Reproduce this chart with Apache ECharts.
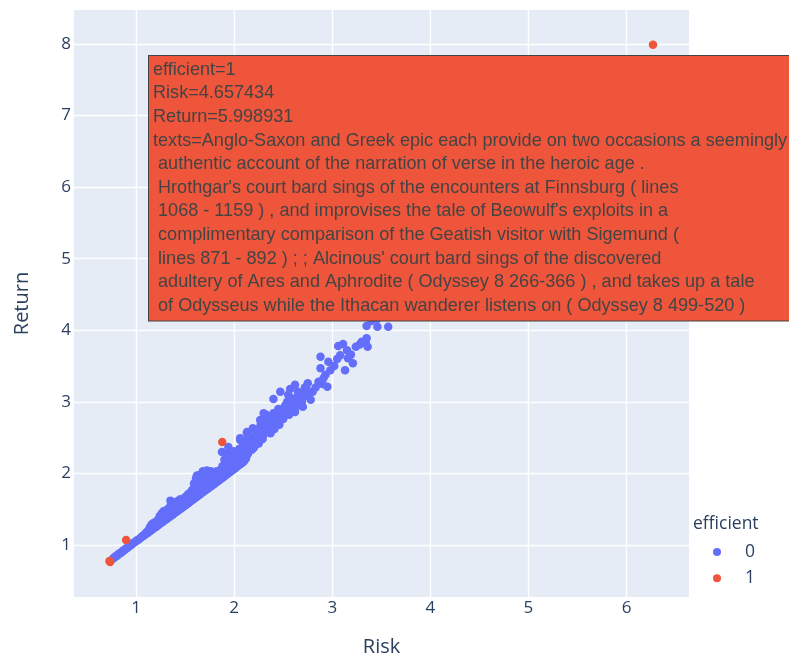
<!DOCTYPE html>
<html>
<head>
<meta charset="utf-8">
<script src="https://cdn.jsdelivr.net/npm/echarts@6/dist/echarts.min.js"></script>
<style>
html,body{margin:0;padding:0;overflow:hidden;background:#fff;}
#chart{width:789px;height:657px;}
</style>
</head>
<body>
<div id="chart"></div>
<script>
// ---- data ----
const seriesNames = ['0', '1'];
const xTicks = [1, 2, 3, 4, 5, 6];
const yTicks = [1, 2, 3, 4, 5, 6, 7, 8];
const xTitle = 'Risk';
const yTitle = 'Return';
const legendTitle = 'efficient';

// efficient = 0  [Risk, Return]
const efficient0 = [
  [0.765,0.812],[0.778,0.826],[0.791,0.843],[0.806,0.851],[0.818,0.869],[0.833,0.884],[0.847,0.893],[0.861,0.912],
  [0.874,0.925],[0.889,0.941],[0.902,0.953],[0.918,0.968],[0.931,0.987],[0.946,0.998],[0.960,1.013],[0.973,1.030],
  [0.989,1.041],[1.003,1.058],[1.017,1.071],[1.032,1.083],[1.048,1.102],[1.061,1.118],[1.077,1.129],[1.092,1.147],
  [1.106,1.162],[1.121,1.171],[1.137,1.192],[1.150,1.203],[1.166,1.219],[1.181,1.236],[1.195,1.248],[1.211,1.263],
  [1.226,1.281],[1.240,1.293],[1.256,1.310],[1.271,1.322],[1.286,1.341],[1.301,1.354],[1.317,1.369],[1.332,1.387],
  [1.346,1.398],[1.362,1.417],[1.378,1.430],[1.392,1.446],[1.408,1.462],[1.423,1.475],[1.439,1.493],[1.453,1.507],
  [1.469,1.521],[1.485,1.540],[1.499,1.552],[1.515,1.569],[1.531,1.583],[1.546,1.601],[1.560,1.614],[1.576,1.632],
  [1.592,1.645],[1.607,1.663],[1.621,1.677],[1.637,1.694],[1.653,1.708],[1.668,1.725],[1.683,1.739],[1.699,1.757],
  [1.714,1.772],[1.730,1.787],[1.745,1.803],[1.761,1.818],[1.776,1.835],[1.792,1.849],[1.807,1.867],[1.823,1.881],
  [1.838,1.898],[1.854,1.913],[1.869,1.930],[1.885,1.944],[1.900,1.962],[1.916,1.977],[1.931,1.993],[1.947,2.009],
  [1.962,2.026],[1.978,2.041],[1.993,2.058],[2.009,2.074],[2.024,2.091],[2.040,2.107],[2.056,2.125],[2.071,2.140],
  [2.087,2.158],[2.102,2.174],
  [1.07,1.13],[1.10,1.17],[1.12,1.20],[1.14,1.25],[1.16,1.29],[1.18,1.31],[1.20,1.30],[1.22,1.35],[1.24,1.40],
  [1.26,1.44],[1.28,1.47],[1.30,1.44],[1.32,1.50],[1.35,1.55],[1.35,1.62],[1.38,1.53],[1.40,1.58],[1.42,1.61],
  [1.45,1.64],[1.47,1.60],[1.50,1.67],[1.53,1.71],[1.55,1.73],[1.57,1.77],[1.59,1.86],[1.61,1.93],[1.62,1.97],
  [1.60,1.80],[1.64,1.89],[1.66,1.99],[1.68,2.03],[1.70,1.94],[1.72,2.04],[1.74,1.97],[1.76,2.03],[1.78,1.95],
  [1.80,2.01],[1.82,2.03],[1.84,1.96],[1.86,2.05],[1.88,2.10],[1.90,2.19],[1.875,2.30],[1.93,2.28],[1.94,2.37],
  [1.95,2.21],[1.97,2.27],[1.99,2.31],[2.01,2.24],[2.03,2.30],[2.05,2.34],[2.07,2.27],[2.09,2.39],[2.11,2.33],
  [1.25,1.36],[1.29,1.40],[1.33,1.44],[1.37,1.48],[1.41,1.52],[1.44,1.56],[1.48,1.59],[1.52,1.63],[1.56,1.68],
  [1.59,1.72],[1.62,1.76],[1.64,1.80],[1.63,1.87],[1.66,1.82],[1.68,1.91],[1.70,1.85],[1.72,1.95],[1.74,1.88],
  [1.76,1.94],[1.78,1.90],[1.80,1.95],[1.83,1.97],[1.86,1.99],[1.89,2.03],[1.91,2.10],[1.92,2.04],[1.95,2.08],
  [1.96,2.15],[1.98,2.11],[2.00,2.18],[2.02,2.14],[2.04,2.21],[2.06,2.19],[2.08,2.23],[2.10,2.25],[2.12,2.21],
  [2.15,2.31],[2.17,2.37],[2.20,2.36],[2.23,2.45],[2.25,2.42],[2.27,2.51],[2.29,2.48],[2.32,2.58],[2.35,2.65],
  [2.37,2.56],[2.38,2.68],[2.41,2.62],[2.43,2.76],[2.46,2.68],[2.48,2.82],[2.50,2.76],[2.53,2.85],[2.56,2.82],
  [2.60,2.90],[2.62,2.86],[2.66,2.95],[2.69,3.00],[2.75,3.09],[2.80,3.14],[2.83,3.20],[2.90,3.25],[2.93,3.38],
  [3.02,3.50],[3.05,3.60],[3.19,3.66],[3.28,3.80],
  [2.14,2.27],[2.18,2.33],[2.22,2.40],[2.26,2.47],[2.30,2.54],[2.35,2.60],[2.40,2.66],[2.45,2.74],
  [2.061,2.466],[2.13,2.56],[2.214,2.606],[2.265,2.746],[2.33,2.816],[2.398,2.634],[2.296,2.652],
  [2.03,2.28],[2.09,2.40],[2.06,2.49],[2.18,2.51],[2.13,2.58],[2.19,2.63],[2.34,2.61],[2.27,2.68],[2.42,2.72],
  [2.30,2.84],[2.34,2.79],[2.40,2.84],[2.52,2.82],[2.47,2.89],[2.70,2.93],[2.59,2.93],[2.54,3.00],[2.78,3.03],
  [2.64,3.07],[2.40,3.04],[2.47,3.14],[2.57,3.18],[2.62,3.24],[2.74,3.17],[2.75,3.26],[2.95,3.21],[2.86,3.28],
  [2.91,3.33],[2.98,3.44],[2.88,3.47],[2.96,3.56],[2.88,3.63],[3.13,3.44],[3.21,3.54],[3.16,3.61],[3.08,3.65],
  [3.15,3.72],[3.24,3.77],[3.06,3.78],[3.11,3.81],[3.36,3.77],[3.34,3.84],[3.35,3.89],[3.35,4.06],[3.46,4.05],
  [3.57,4.05],[3.30,3.84],[3.46,4.16],[3.40,4.13],
  [2.22,2.56],[2.25,2.62],[2.28,2.70],[2.32,2.74],[2.36,2.70],[2.38,2.78],[2.44,2.80],[2.45,2.90],[2.50,2.87],
  [2.52,2.95],[2.56,2.97],[2.58,2.88],[2.60,3.00],[2.63,2.98],[2.66,3.04],[2.68,3.10],[2.72,3.08],[2.65,3.14],
  [2.72,3.20],[2.55,3.10],[2.12,2.46],[2.16,2.50],[2.20,2.45],[2.08,2.31],[2.14,2.39],[2.17,2.43],[2.24,2.52],
  [2.28,2.57],[2.44,2.72],[2.48,2.76],[2.58,3.05],
  [3.62,4.24],[3.70,4.31],[3.78,4.40],[3.85,4.52],[3.95,4.63],[4.05,4.79],[4.15,4.93],[4.30,5.16],[4.45,5.41]
];

// efficient = 1  [Risk, Return]
const efficient1 = [
  [0.735,0.763],[0.728,0.778],[0.898,1.070],[1.878,2.440],[4.657434,5.998931],[6.270,7.990]
];

// hovered point (efficient = 1)
const hoverEfficient = 1;
const hoverRisk = 4.657434;
const hoverReturn = 5.998931;
const hoverTextLines = [
  "Anglo-Saxon and Greek epic each provide on two occasions a seemingly",
  " authentic account of the narration of verse in the heroic age .",
  " Hrothgar's court bard sings of the encounters at Finnsburg ( lines",
  " 1068 - 1159 ) , and improvises the tale of Beowulf's exploits in a",
  " complimentary comparison of the Geatish visitor with Sigemund (",
  " lines 871 - 892 ) ; ; Alcinous' court bard sings of the discovered",
  " adultery of Ares and Aphrodite ( Odyssey 8 266-366 ) , and takes up a tale",
  " of Odysseus while the Ithacan wanderer listens on ( Odyssey 8 499-520 )"
];

// ---- chart ----
const TEXT = '#2a3f5f';
const FONT = '"Open Sans", verdana, arial, sans-serif';
const chart = echarts.init(document.getElementById('chart'), null, {renderer: 'canvas'});

const tipText = [
  'efficient=' + hoverEfficient,
  'Risk=' + hoverRisk,
  'Return=' + hoverReturn,
  'texts=' + hoverTextLines.join('\n')
].join('\n');

const axisCommon = {
  type: 'value',
  nameLocation: 'middle',
  nameTextStyle: {color: TEXT, fontSize: 20, fontFamily: FONT},
  axisLine: {show: false},
  axisTick: {show: false},
  splitLine: {show: true, showMinLine: false, showMaxLine: false, lineStyle: {color: '#ffffff', width: 1.4}},
  minInterval: 1,
  maxInterval: 1
};

chart.setOption({
  animation: false,
  backgroundColor: '#ffffff',
  grid: {
    left: 74, right: 100, top: 10, bottom: 60,
    outerBoundsMode: 'none', containLabel: false,
    show: true, backgroundColor: '#E5ECF6', borderWidth: 0
  },
  title: {
    text: legendTitle,
    left: 693, top: 515, padding: 0,
    textStyle: {color: TEXT, fontSize: 17.5, fontWeight: 'normal', fontFamily: FONT}
  },
  legend: {
    orient: 'vertical',
    left: 713, top: 543, padding: 0,
    itemWidth: 46, itemHeight: 8, itemGap: 8.3,
    icon: 'circle',
    selectedMode: false,
    data: seriesNames,
    textStyle: {color: TEXT, fontSize: 17.5, fontFamily: FONT, lineHeight: 18, padding: [0, 0, 0, 0]}
  },
  xAxis: Object.assign({}, axisCommon, {
    name: xTitle, nameGap: 40,
    min: 0.3665, max: 6.637,
    axisLabel: {
      color: TEXT, fontSize: 17, fontFamily: FONT, margin: 3,
      formatter: v => xTicks.includes(v) ? String(v) : ''
    }
  }),
  yAxis: Object.assign({}, axisCommon, {
    name: yTitle, nameGap: 42,
    min: 0.2735, max: 8.475,
    axisLabel: {
      color: TEXT, fontSize: 17, fontFamily: FONT, margin: 3,
      formatter: v => yTicks.includes(v) ? String(v) : ''
    }
  }),
  series: [
    {
      name: seriesNames[0], type: 'scatter', data: efficient0,
      symbolSize: 8.5, itemStyle: {color: '#636efa', opacity: 1},
      emphasis: {disabled: true}, silent: true
    },
    {
      name: seriesNames[1], type: 'scatter', data: efficient1,
      symbolSize: 8.5, itemStyle: {color: '#EF553B', opacity: 1},
      emphasis: {disabled: true}, silent: true
    }
  ],
  graphic: [{
    type: 'text',
    left: 148, top: 55, z: 100, silent: true,
    style: {
      text: tipText,
      fill: '#444444',
      fontSize: 18.1,
      fontFamily: '"Liberation Sans", Arial, sans-serif',
      lineHeight: 23.6,
      backgroundColor: '#EF553B',
      borderColor: '#444444',
      borderWidth: 1,
      padding: [2, 4, 3, 4]
    }
  }]
});
</script>
</body>
</html>
